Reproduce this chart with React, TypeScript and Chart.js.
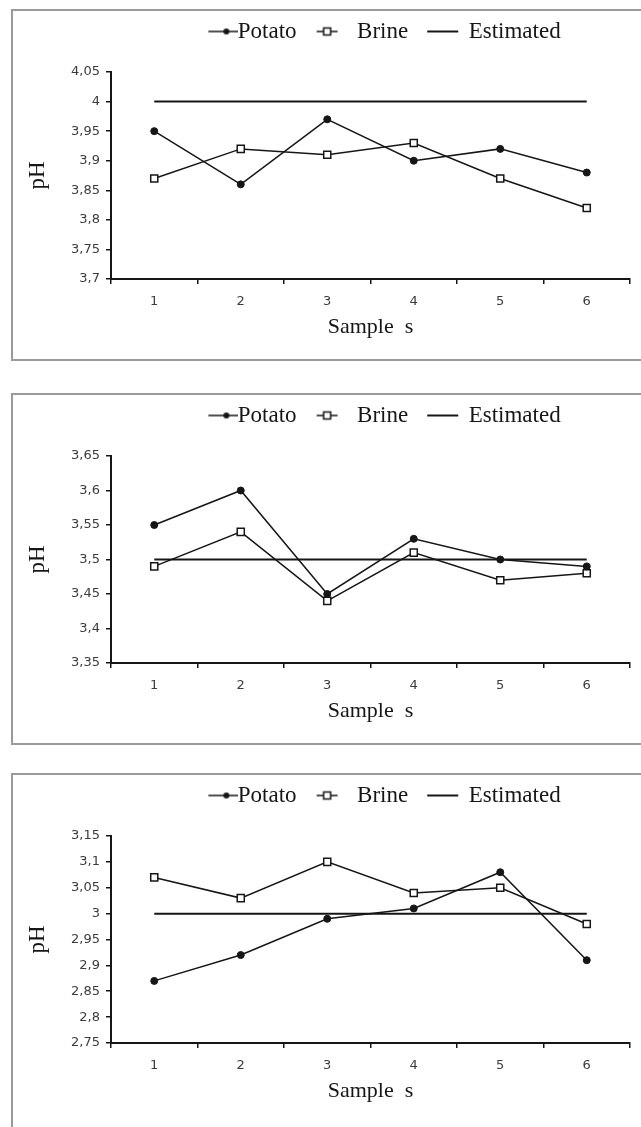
import { useEffect, useRef } from 'react';
import { Chart, registerables } from 'chart.js';

Chart.register(...registerables);

const samples = ['1', '2', '3', '4', '5', '6'];
const legendLabels = ['Potato', 'Brine', 'Estimated'];

const potato1 = [3.95, 3.86, 3.97, 3.9, 3.92, 3.88];
const brine1 = [3.87, 3.92, 3.91, 3.93, 3.87, 3.82];
const estimated1 = [4, 4, 4, 4, 4, 4];
const yRange1 = [3.7, 4.05];

const potato2 = [3.55, 3.6, 3.45, 3.53, 3.5, 3.49];
const brine2 = [3.49, 3.54, 3.44, 3.51, 3.47, 3.48];
const estimated2 = [3.5, 3.5, 3.5, 3.5, 3.5, 3.5];
const yRange2 = [3.35, 3.65];

const potato3 = [2.87, 2.92, 2.99, 3.01, 3.08, 2.91];
const brine3 = [3.07, 3.03, 3.1, 3.04, 3.05, 2.98];
const estimated3 = [3, 3, 3, 3, 3, 3];
const yRange3 = [2.75, 3.15];

const yStep = 0.05;

const INK = '#161616';
const SERIF = "'Liberation Serif', 'Times New Roman', serif";
const SANS = "'DejaVu Sans', Arial, sans-serif";

function makeIcon(kind: number): HTMLCanvasElement {
  const c = document.createElement('canvas');
  c.width = 64;
  c.height = 16;
  const ctx = c.getContext('2d')!;
  ctx.strokeStyle = INK;
  ctx.fillStyle = INK;
  const y = 8;
  if (kind === 0) {
    ctx.lineWidth = 1.5;
    ctx.beginPath();
    ctx.moveTo(34, y);
    ctx.lineTo(64, y);
    ctx.stroke();
    ctx.beginPath();
    ctx.arc(52, y, 3, 0, Math.PI * 2);
    ctx.fill();
  } else if (kind === 1) {
    ctx.lineWidth = 1.5;
    ctx.beginPath();
    ctx.moveTo(23, y);
    ctx.lineTo(44, y);
    ctx.stroke();
    ctx.fillStyle = '#fff';
    ctx.fillRect(30, y - 3.5, 7, 7);
    ctx.strokeRect(30, y - 3.5, 7, 7);
  } else {
    ctx.lineWidth = 2;
    ctx.beginPath();
    ctx.moveTo(22, y);
    ctx.lineTo(53, y);
    ctx.stroke();
  }
  return c;
}

function fmt(v: number | string) {
  return String(Math.round(Number(v) * 100) / 100).replace('.', ',');
}

type Props = {
  potato: number[];
  brine: number[];
  estimated: number[];
  range: number[];
  top: number;
  height: number;
  bottomBorder: boolean;
};

function PhPanel({ potato, brine, estimated, range, top, height, bottomBorder }: Props) {
  const ref = useRef<HTMLCanvasElement>(null);
  useEffect(() => {
    const icons = [makeIcon(0), makeIcon(1), makeIcon(2)];
    const legendFit = {
      id: 'legendFit',
      beforeInit(chart: any) {
        const lg = chart.legend;
        if (!lg) return;
        const orig = lg.fit;
        lg.fit = function () {
          orig.call(this);
          this.height += 19;
          if (this.lineWidths && this.lineWidths.length) this.lineWidths[0] -= 6;
        };
      },
    };
    const chart = new Chart(ref.current!, {
      type: 'line',
      data: {
        labels: samples,
        datasets: [
          {
            label: legendLabels[0],
            data: potato,
            borderColor: INK,
            borderWidth: 1.5,
            pointStyle: 'circle',
            pointRadius: 3.5,
            pointBackgroundColor: INK,
            pointBorderColor: INK,
            pointBorderWidth: 1,
            tension: 0,
          },
          {
            label: legendLabels[1],
            data: brine,
            borderColor: INK,
            borderWidth: 1.5,
            pointStyle: 'rect',
            pointRadius: 5,
            pointBackgroundColor: '#ffffff',
            pointBorderColor: INK,
            pointBorderWidth: 1.5,
            tension: 0,
          },
          {
            label: legendLabels[2],
            data: estimated,
            borderColor: INK,
            borderWidth: 2,
            pointRadius: 0,
            tension: 0,
          },
        ],
      },
      options: {
        animation: false,
        responsive: false,
        devicePixelRatio: 1,
        layout: { padding: { left: 0, right: 11, top: 0, bottom: 18 } },
        plugins: {
          legend: {
            position: 'top',
            fullSize: false,
            labels: {
              usePointStyle: true,
              pointStyleWidth: 40,
              padding: 9,
              color: INK,
              font: { family: SERIF, size: 23 },
              generateLabels: () =>
                legendLabels.map((t, i) => ({
                  text: t,
                  pointStyle: icons[i],
                  fillStyle: 'rgba(0,0,0,0)',
                  strokeStyle: 'rgba(0,0,0,0)',
                  lineWidth: 0,
                  hidden: false,
                  datasetIndex: i,
                  fontColor: INK,
                })),
            },
          },
          tooltip: { enabled: false },
        },
        scales: {
          x: {
            offset: true,
            grid: { offset: true, drawOnChartArea: false, drawTicks: true, tickLength: 5, color: INK, lineWidth: 1.5 },
            border: { display: true, color: INK, width: 2 },
            ticks: { padding: 10, color: '#3c3c3c', font: { family: SANS, size: 13 } },
            title: {
              display: true,
              text: 'Sample  s',
              color: INK,
              font: { family: SERIF, size: 22 },
              padding: { top: 0, bottom: 1 },
            },
            afterFit: (s: any) => {
              s.height = 62;
            },
          },
          y: {
            min: range[0],
            max: range[1],
            ticks: {
              stepSize: yStep,
              padding: 6,
              color: '#3c3c3c',
              font: { family: SANS, size: 13 },
              callback: (v: any) => fmt(v),
            },
            grid: { drawOnChartArea: false, drawTicks: true, tickLength: 5, color: INK, lineWidth: 1.5 },
            border: { display: true, color: INK, width: 2 },
            title: {
              display: true,
              text: 'pH',
              color: INK,
              font: { family: SERIF, size: 23 },
              padding: { top: 11, bottom: 0 },
            },
            afterFit: (s: any) => {
              s.width = 98;
            },
          },
        },
      },
      plugins: [legendFit],
    } as any);
    return () => chart.destroy();
  }, [potato, brine, estimated, range]);

  return (
    <div
      style={{
        position: 'absolute',
        left: 11,
        top,
        width: 628,
        height,
        borderTop: '2px solid #9a9a9a',
        borderLeft: '2px solid #9a9a9a',
        borderBottom: bottomBorder ? '2px solid #9a9a9a' : 'none',
        background: '#ffffff',
        overflow: 'hidden',
      }}
    >
      <canvas ref={ref} width={628} height={348} style={{ display: 'block', width: 628, height: 348 }} />
    </div>
  );
}

export default function App() {
  return (
    <div>
      <PhPanel potato={potato1} brine={brine1} estimated={estimated1} range={yRange1} top={9} height={348} bottomBorder />
      <PhPanel potato={potato2} brine={brine2} estimated={estimated2} range={yRange2} top={393} height={348} bottomBorder />
      <PhPanel potato={potato3} brine={brine3} estimated={estimated3} range={yRange3} top={773} height={352} bottomBorder={false} />
    </div>
  );
}
